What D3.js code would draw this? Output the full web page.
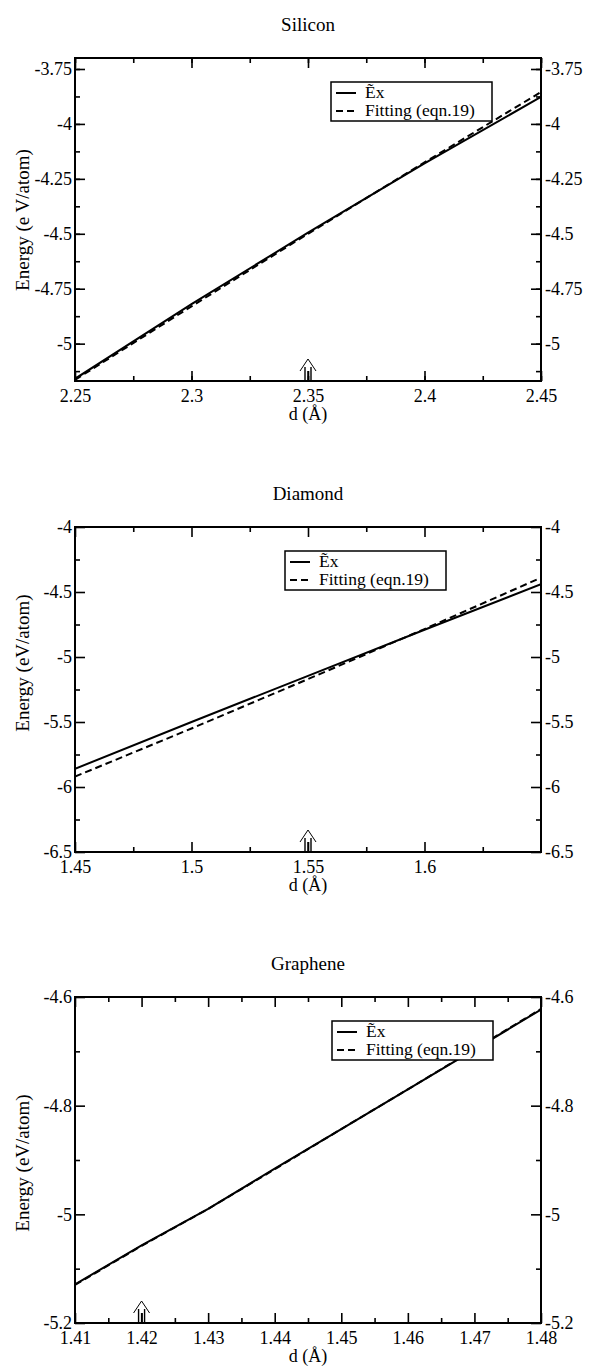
<!DOCTYPE html>
<html>
<head>
<meta charset="utf-8">
<script src="https://cdn.jsdelivr.net/npm/d3@7"></script>
<style>
  body { margin: 0; background: #fff; }
</style>
</head>
<body>
<svg id="chart" width="589" height="1366"></svg>
<script>
// ---- data ----
var siliconD   = [2.25, 2.30, 2.35, 2.40, 2.45];
var siliconEx  = [-5.16, -4.82, -4.495, -4.18, -3.877];
var siliconFit = [-5.165, -4.83, -4.50, -4.175, -3.855];

var diamondD   = [1.45, 1.50, 1.55, 1.60, 1.65];
var diamondEx  = [-5.86, -5.50, -5.145, -4.79, -4.44];
var diamondFit = [-5.92, -5.55, -5.17, -4.785, -4.39];

var grapheneD   = [1.41, 1.42, 1.43, 1.44, 1.45, 1.46, 1.47, 1.48];
var grapheneEx  = [-5.129, -5.057, -4.99, -4.916, -4.843, -4.77, -4.697, -4.623];
var grapheneFit = [-5.13, -5.058, -4.99, -4.917, -4.843, -4.77, -4.696, -4.622];

var siliconXTicks  = [2.25, 2.3, 2.35, 2.4, 2.45];
var siliconYTicks  = [-3.75, -4, -4.25, -4.5, -4.75, -5];
var diamondXTicks  = [1.45, 1.5, 1.55, 1.6];
var diamondYTicks  = [-4, -4.5, -5, -5.5, -6, -6.5];
var grapheneXTicks = [1.41, 1.42, 1.43, 1.44, 1.45, 1.46, 1.47, 1.48];
var grapheneYTicks = [-4.6, -4.8, -5, -5.2];

var seriesNames = ["\u1EBCx", "Fitting (eqn.19)"];
var arrowAt = [2.35, 1.55, 1.42];   // equilibrium bond length markers

var FONT = "Liberation Serif";

var svg = d3.select("#chart");
svg.append("rect").attr("width", 589).attr("height", 1366).attr("fill", "#fff");

var fmt = function (v) { return String(+v.toFixed(3)); };

function range(a, b, step) {
  var out = [], n = Math.round((b - a) / step);
  for (var i = 0; i <= n; i++) out.push(+(a + i * step).toFixed(4));
  return out;
}

function txt(sel, size) {
  return sel.attr("font-family", FONT).attr("font-size", size || 18).attr("fill", "#000");
}

function drawPanel(p, idx) {
  var left = 75, right = 541;
  var x = d3.scaleLinear().domain(p.xDomain).range([left, right]),
      y = d3.scaleLinear().domain(p.yDomain).range([p.bottom, p.top]);
  var g = svg.append("g");
  var clipId = "clip" + idx;

  g.append("clipPath").attr("id", clipId).append("rect")
    .attr("x", left).attr("y", p.top).attr("width", right - left).attr("height", p.bottom - p.top);

  // title
  txt(g.append("text").attr("x", (left + right) / 2).attr("y", p.top - 27)
    .attr("text-anchor", "middle"), 19).text(p.title);

  // ticks on all four sides, pointing in
  function ticks(axisFn, tr, vals, size, labels, pad) {
    var a = axisFn.tickValues(vals).tickSizeInner(-size).tickSizeOuter(0).tickPadding(pad || 3)
      .tickFormat(labels ? fmt : "");
    var ag = g.append("g").attr("transform", tr).call(a);
    ag.select(".domain").remove();
    ag.selectAll("line").attr("stroke", "#000").attr("stroke-width", 1.6);
    txt(ag, 18);
    return ag;
  }
  ticks(d3.axisBottom(x), "translate(0," + p.bottom + ")", p.xMinor, 5);
  ticks(d3.axisTop(x), "translate(0," + p.top + ")", p.xMinor, 5);
  ticks(d3.axisLeft(y), "translate(" + left + ",0)", p.yMinor, 5);
  ticks(d3.axisRight(y), "translate(" + right + ",0)", p.yMinor, 5);

  ticks(d3.axisBottom(x), "translate(0," + p.bottom + ")", p.xTicks, 10, true, 8);
  ticks(d3.axisTop(x), "translate(0," + p.top + ")", p.xTicks, 10);
  ticks(d3.axisLeft(y), "translate(" + left + ",0)", p.yTicks, 10, true, 3);
  ticks(d3.axisRight(y), "translate(" + right + ",0)", p.yTicks, 10, true, 4);

  // frame
  g.append("rect").attr("x", left).attr("y", p.top)
    .attr("width", right - left).attr("height", p.bottom - p.top)
    .attr("fill", "none").attr("stroke", "#000").attr("stroke-width", 2);

  // axis titles
  txt(g.append("text").attr("x", (left + right) / 2).attr("y", p.bottom + 39)
    .attr("text-anchor", "middle")).text("d (\u00C5)");
  txt(g.append("text").attr("transform", "translate(29," + p.ylabelMid + ") rotate(-90)")
    .attr("text-anchor", "middle"), 19).text(p.ylabel);

  // curves
  var line = d3.line().x(function (d) { return x(d[0]); }).y(function (d) { return y(d[1]); });
  var exPts = p.d.map(function (v, i) { return [v, p.ex[i]]; });
  var fitPts = p.d.map(function (v, i) { return [v, p.fit[i]]; });
  g.append("path").attr("d", line(exPts)).attr("clip-path", "url(#" + clipId + ")")
    .attr("fill", "none").attr("stroke", "#000").attr("stroke-width", 2);
  g.append("path").attr("d", line(fitPts)).attr("clip-path", "url(#" + clipId + ")")
    .attr("fill", "none").attr("stroke", "#000").attr("stroke-width", 2).attr("stroke-dasharray", "7,4");

  // arrow marker at equilibrium d
  var ax = x(p.arrow), b = p.bottom;
  var ar = g.append("g").attr("fill", "none").attr("stroke", "#000").attr("stroke-width", 1);
  ar.append("path").attr("d", "M" + (ax - 8) + "," + (b - 10) + "L" + ax + "," + (b - 22) + "L" + (ax + 8) + "," + (b - 10));
  [-3, 0, 3].forEach(function (o, i) {
    ar.append("line").attr("x1", ax + o).attr("x2", ax + o).attr("y1", b).attr("y2", b - (i === 1 ? 10 : 14))
      .attr("stroke-width", 1.4);
  });

  // legend
  var lx = p.legend[0], ly = p.top + 24;
  var lg = g.append("g");
  lg.append("rect").attr("x", lx).attr("y", ly).attr("width", 161).attr("height", 39)
    .attr("fill", "#fff").attr("stroke", "#000").attr("stroke-width", 1.5);
  seriesNames.forEach(function (name, i) {
    var yy = ly + 11 + i * 18;
    lg.append("line").attr("x1", lx + 5).attr("x2", lx + 25).attr("y1", yy).attr("y2", yy)
      .attr("stroke", "#000").attr("stroke-width", 2).attr("stroke-dasharray", i ? "7,4" : null);
    txt(lg.append("text").attr("x", lx + 34).attr("y", yy + 5), 17.5).text(name);
  });
}

var panels = [
  { title: "Silicon", top: 58, bottom: 381, xDomain: [2.25, 2.45], yDomain: [-5.17, -3.70],
    xTicks: siliconXTicks, xMinor: range(2.25, 2.45, 0.025), yTicks: siliconYTicks, yMinor: range(-5.125, -3.75, 0.125),
    d: siliconD, ex: siliconEx, fit: siliconFit, arrow: arrowAt[0], legend: [331],
    ylabel: "Energy (e V/atom)", ylabelMid: 220 },
  { title: "Diamond", top: 527, bottom: 852, xDomain: [1.45, 1.65], yDomain: [-6.5, -4],
    xTicks: diamondXTicks, xMinor: range(1.475, 1.625, 0.05), yTicks: diamondYTicks, yMinor: range(-6.25, -4.25, 0.5),
    d: diamondD, ex: diamondEx, fit: diamondFit, arrow: arrowAt[1], legend: [285],
    ylabel: "Energy (eV/atom)", ylabelMid: 663 },
  { title: "Graphene", top: 997, bottom: 1323, xDomain: [1.41, 1.48], yDomain: [-5.2, -4.6],
    xTicks: grapheneXTicks, xMinor: range(1.415, 1.475, 0.01), yTicks: grapheneYTicks, yMinor: range(-5.1, -4.7, 0.2),
    d: grapheneD, ex: grapheneEx, fit: grapheneFit, arrow: arrowAt[2], legend: [332],
    ylabel: "Energy (eV/atom)", ylabelMid: 1163 }
];
panels.forEach(drawPanel);
</script>
</body>
</html>
